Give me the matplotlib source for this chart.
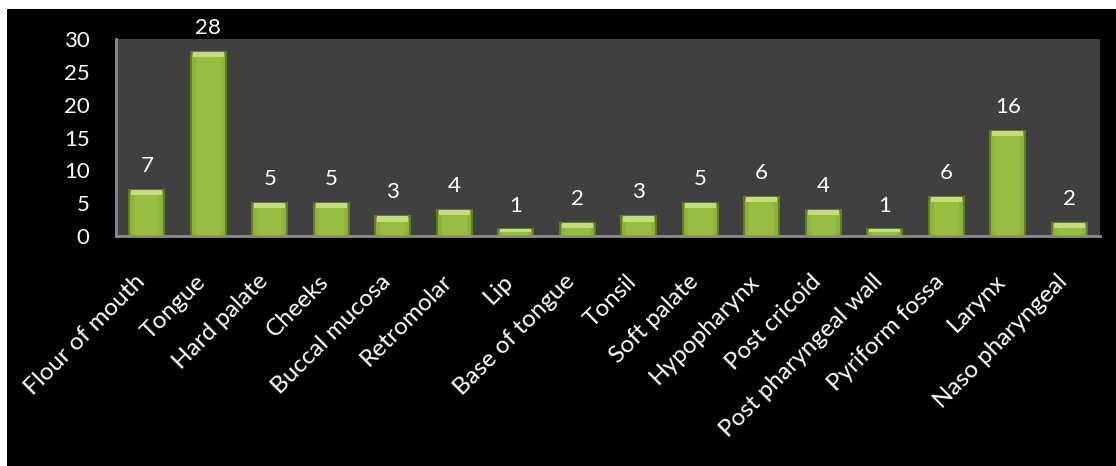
import matplotlib
matplotlib.use('Agg')
import matplotlib.pyplot as plt
import matplotlib.transforms as mtransforms
from matplotlib.patches import Rectangle
import numpy as np

sites = ['Flour of mouth', 'Tongue', 'Hard palate', 'Cheeks', 'Buccal mucosa',
         'Retromolar', 'Lip', 'Base of tongue', 'Tonsil', 'Soft palate',
         'Hypopharynx', 'Post cricoid', 'Post pharyngeal wall', 'Pyriform fossa',
         'Larynx', 'Naso pharyngeal']
counts = [7, 28, 5, 5, 3, 4, 1, 2, 3, 5, 6, 4, 1, 6, 16, 2]
yticks = [0, 5, 10, 15, 20, 25, 30]

plt.rcParams['font.family'] = ['Lato', 'DejaVu Sans']

fig = plt.figure(figsize=(11.16, 4.66), dpi=100, facecolor='white')
# black chart background, leaving thin white strip at left and top
fig.patches.append(Rectangle((7 / 1116, 0), 1 - 7 / 1116, (466 - 9) / 466,
                             transform=fig.transFigure, facecolor='black',
                             edgecolor='none', zorder=-5))

ax = fig.add_axes([116 / 1116, 1 - 236 / 466, (1100 - 116) / 1116, (236 - 39) / 466])
ax.set_facecolor('#404040')

x = np.arange(len(sites))
vals = np.array(counts, dtype=float)
ax.bar(x, vals, width=0.57, color='#8db33a', edgecolor='#5f7d22', linewidth=1.5, zorder=2)
ax.bar(x, vals, width=0.4, color='#97be40', edgecolor='none', zorder=2)
# light cap on top of each bar (glossy look)
cap = np.minimum(0.8, vals * 0.4)
ax.bar(x, cap, bottom=vals - cap, width=0.5, color='#c3de78', edgecolor='none', zorder=3)

for xi, v in zip(x, counts):
    ax.annotate(str(v), (xi, v), xytext=(0, 10), textcoords='offset points',
                ha='center', va='bottom', color='white', fontsize=16)

ax.set_xlim(-0.5, len(sites) - 0.5)
ax.set_ylim(0, 30)
ax.set_yticks(yticks)
ax.set_xticks(x)
ax.set_xticklabels(sites, rotation=45, ha='right', rotation_mode='anchor', fontsize=17.5)
ax.tick_params(axis='both', length=0, colors='white')
ax.tick_params(axis='y', pad=19, labelsize=16)
ax.tick_params(axis='x', pad=22)

# nudge category labels a bit left/down
shift = mtransforms.ScaledTranslation(-13 / 100, -4 / 100, fig.dpi_scale_trans)
for lbl in ax.get_xticklabels():
    lbl.set_transform(lbl.get_transform() + shift)

for side in ['top', 'right']:
    ax.spines[side].set_visible(False)
for side in ['left', 'bottom']:
    ax.spines[side].set_color('#8c8c8c')
    ax.spines[side].set_linewidth(2)

fig.savefig('out.png', dpi=100, facecolor=fig.get_facecolor())
